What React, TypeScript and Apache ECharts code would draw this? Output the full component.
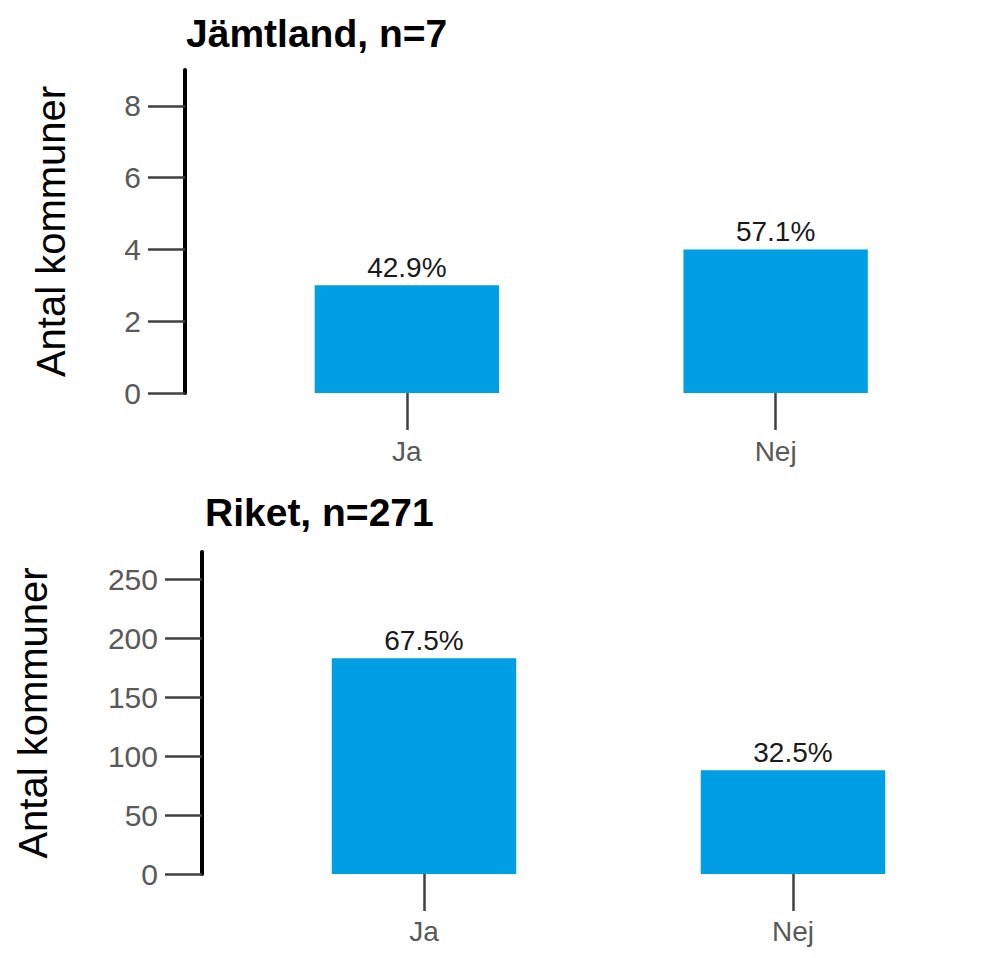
import React, { useEffect, useRef } from "react";
import * as echarts from "echarts";

const categories = ["Ja", "Nej"];
const jamtlandValues = [3, 4];
const jamtlandLabels = ["42.9%", "57.1%"];
const riketValues = [183, 88];
const riketLabels = ["67.5%", "32.5%"];
const jamtlandTicks = [0, 2, 4, 6, 8];
const riketTicks = [0, 50, 100, 150, 200, 250];
const jamtlandTitle = "Jämtland, n=7";
const riketTitle = "Riket, n=271";
const yAxisTitle = "Antal kommuner";
const jamtlandMax = 9;
const riketMax = 273;

const FONT = "'Liberation Sans', Arial, sans-serif";
const BAR = "#009FE3";
const TICK = "#404040";
const LABEL = "#595959";

function xAxis(gridIndex: number, margin: number) {
  return {
    type: "category",
    gridIndex,
    data: categories,
    axisLine: { show: false },
    axisTick: {
      show: true,
      alignWithLabel: true,
      length: 37,
      lineStyle: { color: TICK, width: 2.5 },
    },
    axisLabel: { fontSize: 28, color: LABEL, margin, fontFamily: FONT },
    splitLine: { show: false },
  };
}

function yAxis(gridIndex: number, max: number, ticks: number[], offset: number, nameGap: number) {
  return {
    type: "value",
    gridIndex,
    min: 0,
    max,
    offset,
    name: yAxisTitle,
    nameLocation: "middle",
    nameRotate: 90,
    nameGap,
    nameTextStyle: { fontSize: 40, color: "#000", fontFamily: FONT },
    axisLine: { show: true, onZero: false, lineStyle: { color: "#000", width: 4 } },
    axisTick: {
      show: true,
      length: 37,
      customValues: ticks,
      lineStyle: { color: TICK, width: 2.5 },
    },
    axisLabel: {
      show: true,
      customValues: ticks,
      fontSize: 30,
      color: LABEL,
      margin: 44,
      fontFamily: FONT,
    },
    splitLine: { show: false },
  };
}

function barSeries(idx: number, values: number[], labels: string[]) {
  return {
    type: "bar",
    xAxisIndex: idx,
    yAxisIndex: idx,
    data: values,
    barCategoryGap: "50%",
    itemStyle: { color: BAR },
    label: {
      show: true,
      position: "top",
      distance: 4,
      fontSize: 28,
      color: "#1a1a1a",
      fontFamily: FONT,
      formatter: (p: any) => labels[p.dataIndex],
    },
  };
}

export default function App() {
  const ref = useRef<HTMLDivElement>(null);
  useEffect(() => {
    if (!ref.current) return;
    const chart = echarts.init(ref.current, undefined, { renderer: "svg" });
    chart.setOption({
      animation: false,
      backgroundColor: "#fff",
      title: [
        {
          text: jamtlandTitle,
          left: 186,
          top: 14,
          padding: 0,
          textStyle: { fontSize: 39, fontWeight: "bold", color: "#000", fontFamily: FONT },
        },
        {
          text: riketTitle,
          left: 205,
          top: 493,
          padding: 0,
          textStyle: { fontSize: 39, fontWeight: "bold", color: "#000", fontFamily: FONT },
        },
      ],
      grid: [
        { left: 222.5, width: 737.5, top: 70, height: 323 },
        { left: 239.5, width: 738, top: 552, height: 322 },
      ],
      xAxis: [xAxis(0, 44), xAxis(1, 43)],
      yAxis: [
        yAxis(0, jamtlandMax, jamtlandTicks, 37.5, 114),
        yAxis(1, riketMax, riketTicks, 37.5, 149),
      ],
      series: [
        barSeries(0, jamtlandValues, jamtlandLabels),
        barSeries(1, riketValues, riketLabels),
      ],
    });
    return () => chart.dispose();
  }, []);
  return (
    <div
      ref={ref}
      style={{ position: "fixed", left: 0, top: 0, width: 1003, height: 958 }}
    />
  );
}
